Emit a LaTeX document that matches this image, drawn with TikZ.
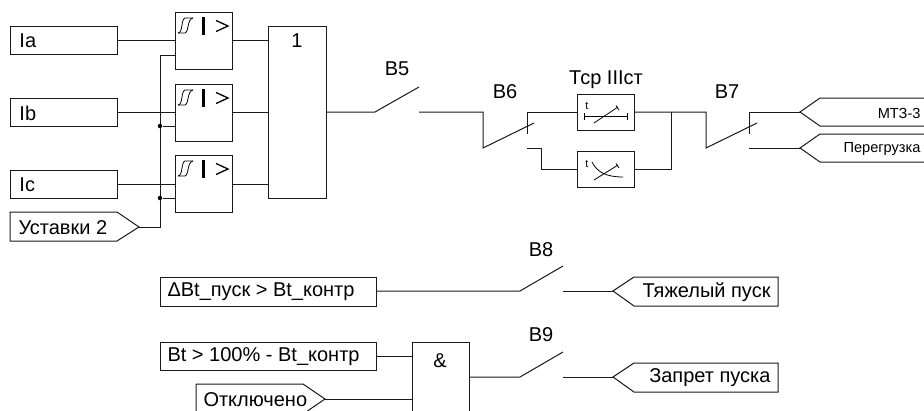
\documentclass[tikz,border=0pt]{standalone}
\usepackage{fontspec}
\setmainfont{Liberation Sans}
\begin{document}
\begin{tikzpicture}[x=1pt,y=-1pt,line width=1pt,line join=miter,
  wire/.style={draw=black!90},
  box/.style={draw=black!90,rectangle,inner sep=0pt,outer sep=0pt,anchor=north west},
  lbl/.style={inner sep=0pt,font=\fontsize{20}{22}\selectfont,text=black},
  small/.style={inner sep=0pt,anchor=east,font=\fontsize{14.6}{16}\selectfont},
  tiny/.style={inner sep=0pt,font=\fontsize{11}{12}\selectfont},
  thinline/.style={line width=0.8pt},
  jdot/.style={circle,fill=black,inner sep=0pt,minimum size=4.5pt}]
\useasboundingbox (0,0) rectangle (924,410);
\clip (0,0) rectangle (924,410);
% inputs
\node[box,minimum width=107pt,minimum height=28pt] (ia) at (10,26) {};
\node[lbl,anchor=west] at (19,41) {Ia};
\node[box,minimum width=107pt,minimum height=28pt] (ib) at (10,98) {};
\node[lbl,anchor=west] at (19,113) {Ib};
\node[box,minimum width=107pt,minimum height=28pt] (ic) at (10,170) {};
\node[lbl,anchor=west] at (19,185) {Ic};
\draw[wire] (10,212) -- (117,212) -- (139,227) coordinate (ust) -- (117,241) -- (10,241) -- cycle;
\node[lbl,anchor=west] (ustl) at (18,228) {Уставки 2};
% comparators
\foreach \n/\y in {ca/12,cb/84,cc/155}{
  \node[box,minimum width=57pt,minimum height=57pt] (\n) at (175,\y) {};
  \begin{scope}[shift={(175,\y)}]
    \draw[thinline] (3,21) .. controls (8,21) and (6,7) .. (10,6) -- (18,6);
    \draw[thinline] (3,21) -- (10,21) .. controls (14,20) and (12,7) .. (18,6);
    \draw[line width=3.2pt] (28.5,5) -- (28.5,23);
    \draw[line width=1.3pt] (41,8.5) -- (53,14) -- (41,19.5);
  \end{scope}
}
% OR
\node[box,minimum width=58pt,minimum height=172pt] (or) at (268,26) {};
\node[lbl] at (297,41) {1};
% wires left
\draw[wire] (ia.east) -- (ca.west |- ia.east);
\draw[wire] (ib.east) -- (cb.west |- ib.east);
\draw[wire] (ic.east) -- (cc.west |- ic.east);
\coordinate (bus) at (160,55);
\draw[wire] (ca.west |- bus) -- (bus) -- (160,227) -- (ust);
\node[jdot] (j1) at (160,126) {};
\node[jdot] (j2) at (160,198) {};
\draw[wire] (j1) -- (cb.west |- j1);
\draw[wire] (j2) -- (cc.west |- j2);
\draw[wire] (232,40) -- (268,40);
\draw[wire] (232,112) -- (268,112);
\draw[wire] (232,184) -- (268,184);
% B5
\draw[wire] (326,112) -- (375,112) -- (419,87);
\node[lbl] at (397,69) {В5};
\draw[wire] (419,112) -- (483,112) -- (483,148) -- (534,123);
\node[lbl] at (505,92) {В6};
\draw[wire] (527,134) -- (527,112) -- (577,112);
\draw[wire] (527,148) -- (541,148) -- (541,169) -- (577,169);
\node[lbl] at (606,80) {Тср IIIст};
% timers
\node[box,minimum width=57pt,minimum height=36pt] (t1) at (577,94) {};
\node[box,minimum width=57pt,minimum height=36pt] (t2) at (577,151) {};
\node[tiny] at (587,106) {t};
\draw[thinline] (584,116) -- (627,116);
\draw[thinline] (584,113) -- (584,120);
\draw[thinline] (627,113) -- (627,120);
\draw[thinline] (594,123) -- (618,107) (616,105.5) -- (619,110);
\node[tiny] at (587,164) {t};
\draw[thinline] (592,162) .. controls (597,172) and (606,177) .. (623,177);
\draw[thinline] (594,180) -- (618,165) (616,163.5) -- (619,168);
% B7
\draw[wire] (634,112) -- (706,112) -- (706,148) -- (757,123);
\draw[wire] (634,169) -- (671,169) -- (671,112);
\node[lbl] at (727,92) {В7};
\draw[wire] (749,134) -- (749,112) -- (800,112);
\draw[wire] (749,148) -- (800,148);
\draw[wire] (930,98) -- (820,98) -- (800,112) -- (820,126) -- (930,126);
\draw[wire] (930,134) -- (820,134) -- (800,148) -- (820,162) -- (930,162);
\node[small] at (921,113) {МТЗ-3};
\node[small] at (921,149) {Перегрузка};
% lower
\node[box,minimum width=216pt,minimum height=29pt] (dbt) at (160,277) {};
\node[lbl,anchor=west] at (167,292) {ΔBt\_пуск > Bt\_контр};
\draw[wire] (376,291) -- (520,291) -- (563,266);
\node[lbl] at (541,250) {В8};
\draw[wire] (563,291) -- (613,291);
\draw[wire] (613,291) -- (634,277) -- (778,277) -- (778,306) -- (634,306) -- cycle;
\node[lbl,anchor=east] at (771,292) {Тяжелый пуск};
\node[box,minimum width=216pt,minimum height=28pt] (bt) at (160,342) {};
\node[lbl,anchor=west] at (167,357) {Bt > 100\% - Bt\_контр};
\node[box,minimum width=57pt,minimum height=80pt] (and) at (412,342) {};
\node[lbl] at (440,361) {\&};
\draw[wire] (376,356) -- (412,356);
\draw[wire] (196,420) -- (196,384) -- (303,384) -- (325,399) -- (303,414);
\node[lbl,anchor=west] at (203,400) {Отключено};
\draw[wire] (325,399) -- (412,399);
\draw[wire] (469,377) -- (520,377) -- (563,352);
\node[lbl] at (541,335) {В9};
\draw[wire] (563,377) -- (613,377);
\draw[wire] (613,377) -- (634,363) -- (778,363) -- (778,392) -- (634,392) -- cycle;
\node[lbl,anchor=east] at (771,378) {Запрет пуска};
\end{tikzpicture}
\end{document}
